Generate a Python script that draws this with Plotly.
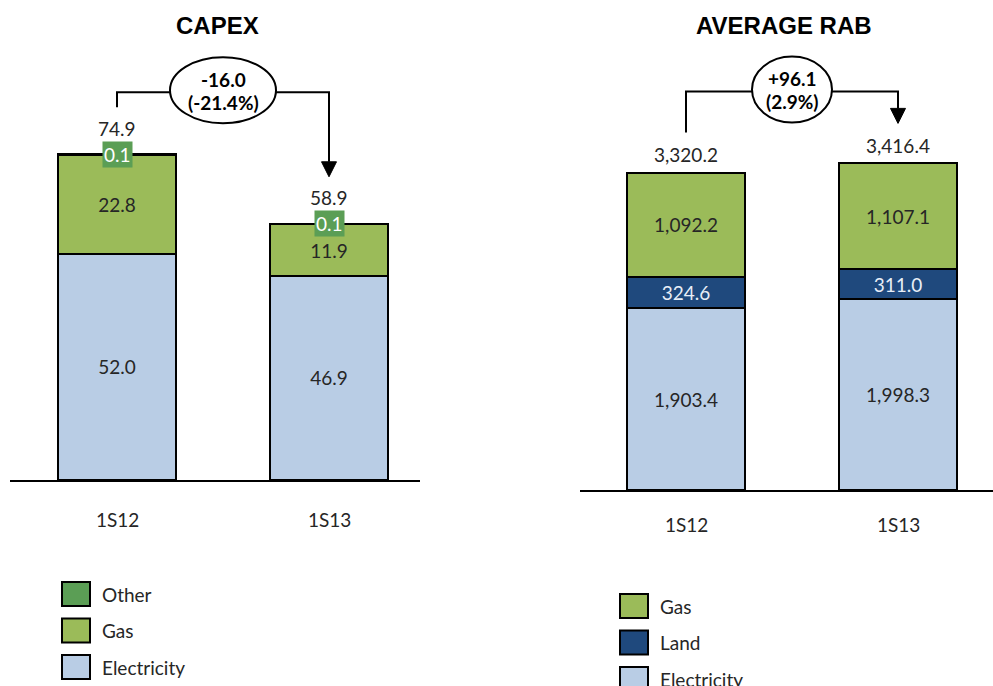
import plotly.graph_objects as go

# ---------------- data ----------------
categories = ["1S12", "1S13"]
capex_electricity = [52.0, 46.9]
capex_gas = [22.8, 11.9]
capex_other = [0.1, 0.1]
capex_total = [74.9, 58.9]
capex_delta = ["-16.0", "(-21.4%)"]

rab_electricity = [1903.4, 1998.3]
rab_land = [324.6, 311.0]
rab_gas = [1092.2, 1107.1]
rab_total = [3320.2, 3416.4]
rab_delta = ["+96.1", "(2.9%)"]

capex_legend = ["Other", "Gas", "Electricity"]
rab_legend = ["Gas", "Land", "Electricity"]

# ---------------- style ----------------
W, H = 993, 686
C_ELEC = "#B9CDE5"
C_GAS = "#9BBB59"
C_OTHER = "#5B9E55"
C_LAND = "#1F497D"
TXT = "#262626"
FONT = "Lato"
FS = 19

xpos = [0, 1]
BAR_W = 118 / 212

# pixels per data unit
S1 = 4.35
S2 = 0.0956

fig = go.Figure()

def add_bar(vals, color, name, xa, ya, txtcolor, show_text=True, fmt="%{y:.1f}"):
    fig.add_trace(go.Bar(
        x=xpos, y=vals, name=name, xaxis=xa, yaxis=ya, width=BAR_W,
        marker=dict(color=color, line=dict(color="black", width=2)),
        texttemplate=fmt if show_text else None,
        textposition="inside" if show_text else "none",
        insidetextanchor="middle",
        textfont=dict(family=FONT, size=FS, color=txtcolor),
        showlegend=False, hoverinfo="skip",
    ))

add_bar(capex_electricity, C_ELEC, "Electricity", "x", "y", TXT)
add_bar(capex_gas, C_GAS, "Gas", "x", "y", TXT)
add_bar(capex_other, C_OTHER, "Other", "x", "y", "white", show_text=False)

add_bar(rab_electricity, C_ELEC, "Electricity", "x2", "y2", TXT, fmt="%{y:,.1f}")
add_bar(rab_land, C_LAND, "Land", "x2", "y2", "#E8EEF7", fmt="%{y:,.1f}")
add_bar(rab_gas, C_GAS, "Gas", "x2", "y2", TXT, fmt="%{y:,.1f}")

shapes = []
annotations = []

def panel_decor(xr, yr, totals, scale, total_shift, start_off, bracket_off, ell_rx_px, delta, tick_shift):
    for i, t in enumerate(totals):
        annotations.append(dict(x=xpos[i], y=t, xref=xr, yref=yr, text=f"{t:,.1f}",
                                showarrow=False, yshift=total_shift, yanchor="middle", xanchor="center",
                                font=dict(family=FONT, size=FS, color=TXT)))
    for i, c in enumerate(categories):
        annotations.append(dict(x=xpos[i], y=0, xref=xr, yref=yr, text=c,
                                showarrow=False, yshift=tick_shift, yanchor="middle", xanchor="center",
                                font=dict(family=FONT, size=FS, color=TXT)))
    y_start = totals[0] + start_off / scale
    y_br = totals[0] + bracket_off / scale
    y_tip = totals[1] + start_off / scale
    tri_h = 15 / scale
    tri_w = 7.5 / 212
    line = dict(color="black", width=2)
    shapes.append(dict(type="path", xref=xr, yref=yr, line=line,
                       path=f"M {xpos[0]} {y_start} L {xpos[0]} {y_br} L {xpos[1]} {y_br} L {xpos[1]} {y_tip + tri_h}"))
    shapes.append(dict(type="path", xref=xr, yref=yr, line=dict(color="black", width=1),
                       fillcolor="black",
                       path=f"M {xpos[1]-tri_w} {y_tip + tri_h} L {xpos[1]+tri_w} {y_tip + tri_h} L {xpos[1]} {y_tip} Z"))
    xc = (xpos[0] + xpos[1]) / 2
    rx = ell_rx_px / 212
    ry = 33 / scale
    yc = y_br + 2 / scale
    shapes.append(dict(type="circle", xref=xr, yref=yr, x0=xc - rx, x1=xc + rx,
                       y0=yc - ry, y1=yc + ry, fillcolor="white", line=line))
    for k, txt in enumerate(delta):
        annotations.append(dict(x=xc, y=yc, xref=xr, yref=yr, showarrow=False,
                                yanchor="middle", xanchor="center",
                                yshift=11 if k == 0 else -12,
                                text=f"<b>{txt}</b>",
                                font=dict(family=FONT, size=19, color="black")))

panel_decor("x", "y", capex_total, S1, 26, 47, 62, 53, capex_delta, -39)
panel_decor("x2", "y2", rab_total, S2, 18, 40, 81, 40, rab_delta, -34)

for i in range(2):
    top = capex_electricity[i] + capex_gas[i] + capex_other[i]
    annotations.append(dict(x=xpos[i], y=top, xref="x", yref="y", text=f"{capex_other[i]:.1f}",
                            showarrow=False, bgcolor=C_OTHER, borderpad=1, yanchor="middle",
                            xanchor="center",
                            font=dict(family=FONT, size=FS, color="white")))

annotations.append(dict(x=217.5 / W, y=1 - 25.5 / H, xref="paper", yref="paper", text="<b>CAPEX</b>",
                        showarrow=False, yanchor="middle", xanchor="center",
                        font=dict(family="Liberation Sans", size=24, color="black")))
annotations.append(dict(x=784 / W, y=1 - 25.5 / H, xref="paper", yref="paper", text="<b>AVERAGE RAB</b>",
                        showarrow=False, yanchor="middle", xanchor="center",
                        font=dict(family="Liberation Sans", size=24, color="black")))

def legend(labels, colors, x0, y0, step):
    for k, (lab, col) in enumerate(zip(labels, colors)):
        top = y0 + k * step
        shapes.append(dict(type="rect", xref="paper", yref="paper",
                           x0=x0 / W, x1=(x0 + 28) / W, y0=1 - top / H, y1=1 - (top + 24) / H,
                           fillcolor=col, line=dict(color="black", width=2)))
        annotations.append(dict(x=(x0 + 38) / W, y=1 - (top + 12) / H, xref="paper", yref="paper",
                                text=lab, showarrow=False, xanchor="left", yanchor="middle",
                                font=dict(family=FONT, size=FS, color=TXT)))

legend(capex_legend, [C_OTHER, C_GAS, C_ELEC], 62, 582, 36.5)
legend(rab_legend, [C_GAS, C_LAND, C_ELEC], 620, 594, 36.5)

axis_common = dict(showgrid=False, zeroline=False)
fig.update_layout(
    width=W, height=H, margin=dict(l=0, r=0, t=0, b=0),
    paper_bgcolor="white", plot_bgcolor="white",
    barmode="stack", showlegend=False,
    xaxis=dict(domain=[10 / W, 420 / W], range=[-107 / 212, -107 / 212 + 410 / 212],
               showline=True, linecolor="black", linewidth=2, showticklabels=False, ticks="",
               anchor="y", **axis_common),
    yaxis=dict(domain=[1 - 480 / H, 1 - 50 / H], range=[0, 430 / S1], visible=False,
               anchor="x", **axis_common),
    xaxis2=dict(domain=[580 / W, 1.0], range=[-106 / 212, -106 / 212 + 413 / 212],
                showline=True, linecolor="black", linewidth=2, showticklabels=False, ticks="",
                anchor="y2", **axis_common),
    yaxis2=dict(domain=[1 - 490 / H, 1 - 50 / H], range=[0, 440 / S2], visible=False,
                anchor="x2", **axis_common),
    shapes=shapes, annotations=annotations,
)

fig.write_html("out.html")
